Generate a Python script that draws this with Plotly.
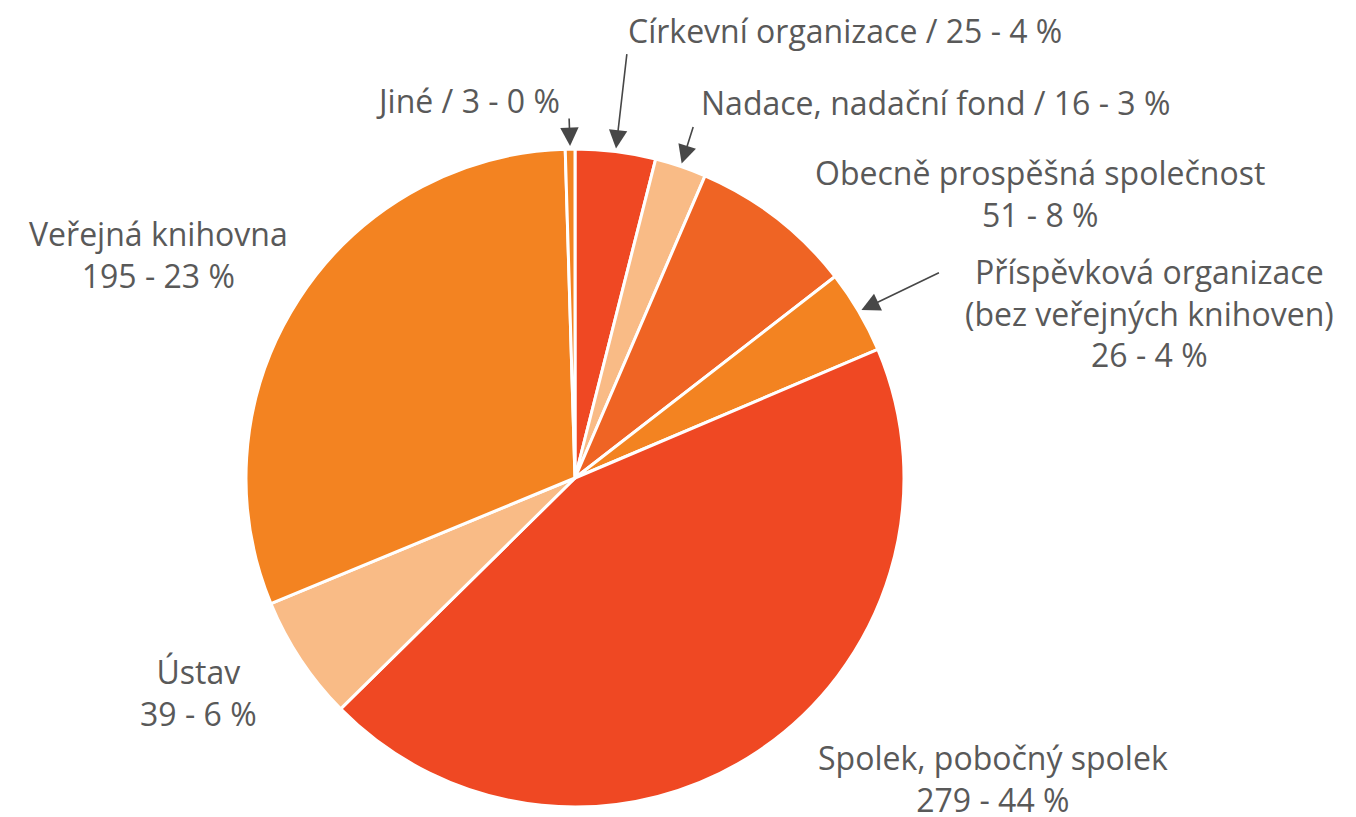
import math
import plotly.graph_objects as go

categories = ["Církevní organizace", "Nadace, nadační fond", "Obecně prospěšná společnost",
              "Příspěvková organizace (bez veřejných knihoven)", "Spolek, pobočný spolek",
              "Ústav", "Veřejná knihovna", "Jiné"]
values = [25, 16, 51, 26, 279, 39, 195, 3]
pct_labels = ["4 %", "3 %", "8 %", "4 %", "44 %", "6 %", "23 %", "0 %"]
colors = ["#EF4823", "#F9BB86", "#EF6424", "#F38321", "#EF4823", "#F9BB86", "#F38321", "#F38321"]

W, H = 1356, 817
OFF = 8  # page body margin
CX, CY, R = 575 - OFF, 478 - OFF, 329

fig = go.Figure(go.Pie(
    values=values, labels=categories, sort=False, direction="clockwise", rotation=0,
    marker=dict(colors=colors, line=dict(color="white", width=3)),
    textinfo="none", hoverinfo="label+value", showlegend=False,
    domain=dict(x=[(CX - R) / W, (CX + R) / W], y=[1 - (CY + R) / H, 1 - (CY - R) / H]),
))

def px(x, y):
    return x / W, 1 - y / H

txt_font = dict(family="Open Sans", size=32, color="#595959")
label_text = [
    f"{categories[0]} / {values[0]} - {pct_labels[0]}",
    f"{categories[1]} / {values[1]} - {pct_labels[1]}",
    f"{categories[2]}<br>{values[2]} - {pct_labels[2]}",
    f"Příspěvková organizace<br>(bez veřejných knihoven)<br>{values[3]} - {pct_labels[3]}",
    f"{categories[4]}<br>{values[4]} - {pct_labels[4]}",
    f"{categories[5]}<br>{values[5]} - {pct_labels[5]}",
    f"{categories[6]}<br>{values[6]} - {pct_labels[6]}",
    f"{categories[7]} / {values[7]} - {pct_labels[7]}",
]
label_pos = [(845, 30), (935, 103), (1040, 193), (1149, 313), (993, 778), (198, 692), (158, 255), (468, 100)]

annotations = []
for t, (x, y) in zip(label_text, label_pos):
    X, Y = px(x - OFF, y - OFF)
    annotations.append(dict(text=t, x=X, y=Y, xref="paper", yref="paper", showarrow=False,
                            xanchor="center", yanchor="middle", font=txt_font, align="center"))

# arrows pointing at slice mid-angles (computed from values)
total = sum(values)
cum = 0
mids = []
for v in values:
    mids.append((cum + v / 2) / total * 2 * math.pi)
    cum += v
arrow_tails = {0: (11, -96), 1: (12, -38), 3: (79, -38), 7: (-1, -29)}
for i, (ax, ay) in arrow_tails.items():
    a = mids[i]
    hx = CX + (R + 3) * math.sin(a)
    hy = CY - (R + 3) * math.cos(a)
    X, Y = px(hx, hy)
    annotations.append(dict(text="", x=X, y=Y, xref="paper", yref="paper", showarrow=True,
                            ax=ax, ay=ay, arrowhead=2, arrowsize=2.3, arrowwidth=1.6,
                            arrowcolor="#474747", standoff=0))

fig.update_layout(width=W, height=H, margin=dict(l=0, r=0, t=0, b=0),
                  paper_bgcolor="white", plot_bgcolor="white", annotations=annotations)
fig.write_html("out.html")
